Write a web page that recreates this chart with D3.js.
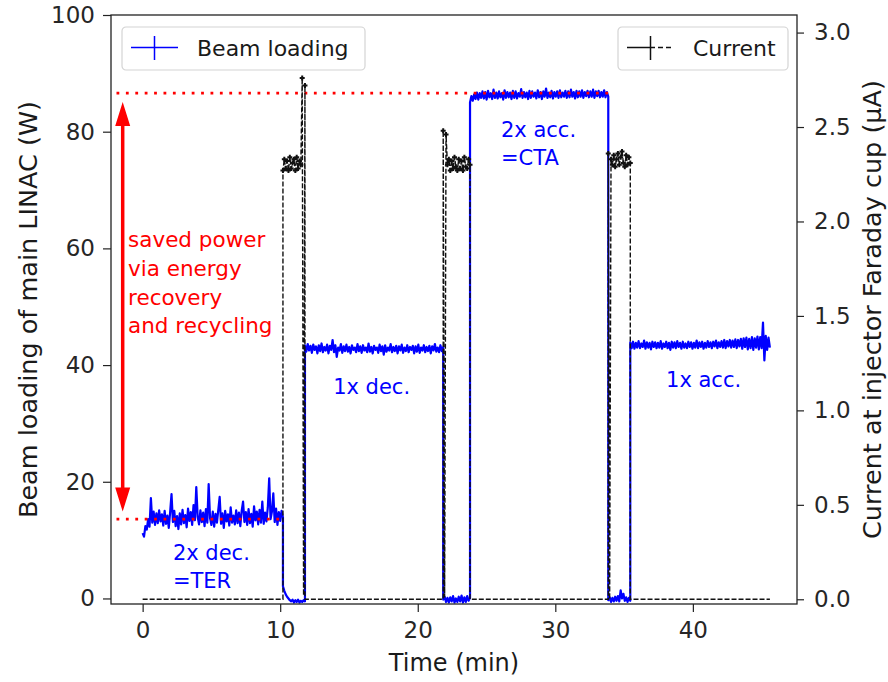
<!DOCTYPE html>
<html>
<head>
<meta charset="utf-8">
<script src="https://cdn.jsdelivr.net/npm/d3@7"></script>
<style>
  body { margin: 0; background: #fff; }
  svg { font-family: "DejaVu Sans", sans-serif; }
</style>
</head>
<body>
<div id="graph"></div>
<script>
// segment boundaries (min): TER, off, 1x dec, off, 2x acc, off, 1x acc
var segStart = [0, 10.2, 11.8, 21.85, 23.8, 33.85, 35.45];
var segEnd = [10.2, 11.8, 21.85, 23.8, 33.85, 35.45, 45.6];

// beam loading of main LINAC (W)
var loadTer = [11.2, 10.6, 12.4, 11.8, 13.6, 12.3, 17.2, 13.0, 14.9, 12.6,
  14.6, 12.9, 15.1, 13.2, 14.4, 12.5, 15.0, 12.8, 14.2, 12.1,
  14.8, 17.9, 13.1, 15.0, 12.4, 14.1, 11.9, 14.6, 12.7, 15.2,
  12.9, 14.3, 12.2, 15.4, 13.3, 14.8, 12.6, 16.0, 13.4, 19.1,
  14.0, 12.7, 15.1, 13.1, 14.7, 12.4, 15.3, 13.0, 19.6, 13.8,
  12.6, 14.9, 12.3, 14.5, 13.0, 15.2, 17.4, 12.8, 14.6, 12.1,
  15.0, 13.2, 14.4, 12.5, 15.6, 13.0, 14.2, 12.7, 15.1, 12.9,
  14.7, 12.4, 15.0, 16.6, 13.1, 14.8, 12.6, 15.3, 12.9, 14.5,
  12.3, 15.8, 13.4, 14.9, 12.7, 15.2, 13.0, 16.6, 12.8, 14.7,
  13.2, 15.6, 20.6, 13.6, 14.9, 18.0, 13.1, 15.4, 12.6, 14.8,
  13.3, 15.0, 13.9];
var loadOff1 = [2.1, 1.3, 0.7, 0.3, 0.0, -0.3, -0.5, -0.2, -0.7, -0.3, -0.6, -0.2, -0.7, -0.4, -0.6, -0.3, -0.5];
var loadDec = [43.4, 42.3, 43.6, 42.5, 43.3, 42.1, 43.5, 42.6, 43.2, 42.0,
  43.4, 42.4, 43.7, 42.2, 43.1, 42.5, 43.5, 42.0, 43.3, 42.6,
  44.3, 42.2, 43.4, 41.4, 43.0, 42.5, 43.6, 42.1, 43.2, 42.4,
  43.5, 42.3, 43.1, 42.0, 43.4, 42.6, 43.0, 42.2, 43.6, 42.4,
  43.2, 42.1, 43.4, 42.5, 43.0, 42.2, 43.7, 42.3, 43.1, 42.0,
  43.3, 42.6, 43.0, 42.1, 43.5, 42.4, 43.2, 41.8, 43.4, 42.3,
  43.0, 42.5, 43.6, 42.2, 43.1, 42.4, 43.3, 42.0, 43.2, 42.5,
  43.5, 42.1, 43.0, 42.4, 43.4, 42.2, 43.1, 42.6, 43.3, 42.0,
  43.2, 42.3, 43.5, 42.1, 43.0, 42.5, 43.4, 42.2, 43.1, 42.4,
  43.3, 42.0, 43.2, 42.5, 43.6, 42.3, 43.0, 42.2, 43.4, 42.4,
  43.1];
var loadOff2 = [-0.2, 0.3, -0.6, 0.1, -0.7, 0.2, -0.5, 0.4, -0.7, 0.0, -0.6, 0.3, -0.5, 0.5, -0.7, 0.2, -0.6, 0.4, -0.4, 0.1];
var loadAcc2 = [85.0, 86.1, 85.3, 86.4, 85.6, 86.7, 85.5, 86.6, 85.8, 86.9,
  85.7, 86.8, 85.5, 87.0, 85.9, 86.6, 85.6, 87.2, 85.8, 86.7,
  85.7, 86.9, 85.9, 86.6, 85.5, 87.1, 85.8, 86.8, 85.9, 86.7,
  85.6, 87.0, 85.8, 86.9, 85.7, 86.6, 86.0, 87.3, 85.8, 86.8,
  85.9, 86.7, 85.6, 87.0, 85.8, 86.9, 86.0, 86.7, 85.7, 87.1,
  85.9, 86.8, 85.6, 86.9, 86.0, 87.4, 85.8, 86.7, 85.9, 87.0,
  85.7, 86.8, 86.0, 86.9, 85.8, 87.1, 85.9, 86.7, 86.0, 87.0,
  85.8, 86.9, 85.9, 87.2, 86.0, 86.8, 85.7, 87.0, 85.9, 86.9,
  86.0, 87.1, 85.8, 86.8, 86.1, 87.0, 85.9, 86.9, 86.0, 87.2,
  85.8, 86.9, 86.1, 87.0, 85.9, 86.8, 86.0, 87.1, 85.9, 86.8,
  86.0];
var loadOff3 = [-0.3, 0.2, -0.6, 0.1, -0.5, 0.3, -0.4, 0.4, -0.5, 1.4, 0.0, 0.8, -0.4, 0.2, -0.6, 0.1, -0.4];
var loadAcc1 = [43.9, 42.9, 44.0, 42.8, 43.8, 43.0, 44.1, 42.9, 43.7, 43.1,
  44.2, 42.8, 43.9, 43.0, 43.8, 42.7, 44.0, 43.1, 43.9, 42.9,
  43.8, 43.0, 44.1, 42.8, 43.7, 43.1, 44.0, 42.9, 43.8, 42.6,
  44.0, 43.0, 43.9, 42.9, 44.1, 43.1, 43.8, 42.8, 44.0, 43.0,
  43.7, 42.9, 44.0, 43.1, 43.9, 42.8, 43.8, 43.0, 44.2, 42.9,
  43.9, 43.1, 44.0, 42.8, 43.8, 43.0, 44.1, 43.1, 43.9, 42.9,
  44.0, 43.2, 44.2, 42.9, 43.9, 43.1, 44.1, 43.0, 44.3, 42.9,
  44.1, 43.2, 44.3, 43.0, 44.2, 43.1, 44.4, 42.9, 44.3, 43.2,
  44.5, 42.8, 44.6, 43.1, 44.7, 42.7, 44.5, 42.9, 44.8, 42.6,
  44.6, 43.0, 44.9, 42.7, 44.8, 42.9, 47.3, 40.8, 45.0, 42.6,
  44.7, 43.0];

// current at injector Faraday cup (uA)
var curOff0 = [0, 0];
var curOn1 = [2.27, 2.33, 2.28, 2.32, 2.27, 2.34, 2.28, 2.31, 2.33, 2.27, 2.34, 2.28, 2.32, 2.30, 2.76, 0.02, 2.72];
var curOff1 = [0, 0];
var curOn2 = [2.48, 0.01, 2.46, 2.30, 2.33, 2.27, 2.32, 2.28, 2.34, 2.29, 2.27, 2.33, 2.28, 2.32, 2.27, 2.34, 2.29, 2.28, 2.33, 2.30];
var curOff2 = [0, 0];
var curOn3 = [2.36, 0.0, 2.33, 2.30, 2.35, 2.29, 2.33, 2.36, 2.30, 2.34, 2.37, 2.31, 2.29, 2.35, 2.30, 2.34, 2.31];
var curOff3 = [0, 0];

var timeTicks = [0, 10, 20, 30, 40];
var loadTicks = [0, 20, 40, 60, 80, 100];
var currentTicks = [0, 0.5, 1.0, 1.5, 2.0, 2.5, 3.0];

// saved power band (W)
var savedLevels = [86.6, 13.6];
var savedText = ["saved power", "via energy", "recovery", "and recycling"];

var plot = {left: 111, right: 797, top: 15, bottom: 604};

var x = d3.scaleLinear().domain([-2.3, 47.57]).range([plot.left, plot.right]);
var yLoad = d3.scaleLinear().domain([-0.95, 100]).range([plot.bottom, plot.top]);
var yCur = d3.scaleLinear().domain([-0.025, 3.093]).range([plot.bottom, plot.top]);

var toPoints = function (segments) {
  var pts = [];
  segments.forEach(function (vals, i) {
    var t0 = segStart[i], t1 = segEnd[i];
    vals.forEach(function (v, j) {
      pts.push({t: t0 + (t1 - t0) * j / (vals.length - 1), v: v});
    });
  });
  return pts;
};

// '+' markers along a trace
var plusPath = function (data, y, s) {
  return data.map(function (d) {
    var px = x(d.t), py = y(d.v);
    return 'M' + (px - s) + ',' + py + 'h' + 2 * s + 'M' + px + ',' + (py - s) + 'v' + 2 * s;
  }).join('');
};

var beamData = toPoints([loadTer, loadOff1, loadDec, loadOff2, loadAcc2, loadOff3, loadAcc1]);
var currentData = toPoints([curOff0, curOn1, curOff1, curOn2, curOff2, curOn3, curOff3]);

var svg = d3.select('#graph').append('svg')
  .attr('width', 888)
  .attr('height', 682);

svg.append('defs').append('clipPath').attr('id', 'clip')
  .append('rect')
  .attr('x', plot.left).attr('y', plot.top)
  .attr('width', plot.right - plot.left).attr('height', plot.bottom - plot.top);

var styleAxis = function (g) {
  g.attr('font-family', '"DejaVu Sans", sans-serif').attr('font-size', 23);
  g.select('.domain').remove();
  g.selectAll('.tick line').attr('stroke', '#222').attr('stroke-width', 1.2);
  g.selectAll('.tick text').attr('fill', '#262626');
};

// Add the axes
svg.append('g')
  .attr('transform', 'translate(0,' + plot.bottom + ')')
  .call(d3.axisBottom(x).tickValues(timeTicks).tickFormat(d3.format('d')).tickSize(8).tickPadding(10))
  .call(styleAxis);
svg.append('g')
  .attr('transform', 'translate(' + plot.left + ',0)')
  .call(d3.axisLeft(yLoad).tickValues(loadTicks).tickFormat(d3.format('d')).tickSize(8).tickPadding(8))
  .call(styleAxis);
svg.append('g')
  .attr('transform', 'translate(' + plot.right + ',0)')
  .call(d3.axisRight(yCur).tickValues(currentTicks).tickFormat(d3.format('.1f')).tickSize(7).tickPadding(10))
  .call(styleAxis);

// axis labels
svg.append('text')
  .attr('transform', 'translate(37,' + (plot.top + plot.bottom) / 2 + ') rotate(-90)')
  .attr('text-anchor', 'middle').attr('font-size', 25.5).attr('fill', '#1a1a1a')
  .text('Beam loading of main LINAC (W)');
svg.append('text')
  .attr('transform', 'translate(881,' + (plot.top + plot.bottom) / 2 + ') rotate(-90)')
  .attr('text-anchor', 'middle').attr('font-size', 25.5).attr('fill', '#1a1a1a')
  .text('Current at injector Faraday cup (\u00b5A)');
svg.append('text')
  .attr('x', (plot.left + plot.right) / 2).attr('y', 671)
  .attr('text-anchor', 'middle').attr('font-size', 24).attr('fill', '#1a1a1a')
  .text('Time (min)');

var area = svg.append('g').attr('clip-path', 'url(#clip)');

// Draw the beam loading trace
var beamLine = d3.line()
  .x(function (d) { return x(d.t); })
  .y(function (d) { return yLoad(d.v); });
area.append('path')
  .datum(beamData)
  .attr('fill', 'none')
  .attr('stroke', 'blue')
  .attr('stroke-width', 2.2)
  .attr('stroke-linejoin', 'round')
  .attr('d', beamLine);

// saved power markers
area.append('line')
  .attr('x1', x(-1.9)).attr('x2', x(segEnd[4]))
  .attr('y1', yLoad(savedLevels[0])).attr('y2', yLoad(savedLevels[0]))
  .attr('stroke', 'red').attr('stroke-width', 2.8).attr('stroke-dasharray', '2.8,6.6');
area.append('line')
  .attr('x1', x(-1.9)).attr('x2', x(segEnd[0]))
  .attr('y1', yLoad(savedLevels[1])).attr('y2', yLoad(savedLevels[1]))
  .attr('stroke', 'red').attr('stroke-width', 2.8).attr('stroke-dasharray', '2.8,6.6');

var ax = x(-1.45), aTop = yLoad(85.1), aBot = yLoad(14.9), head = 24, hw = 7.5;
area.append('line')
  .attr('x1', ax).attr('x2', ax)
  .attr('y1', aTop + head - 2).attr('y2', aBot - head + 2)
  .attr('stroke', 'red').attr('stroke-width', 3.5);
area.append('path')
  .attr('d', 'M' + ax + ',' + aTop + 'L' + (ax - hw) + ',' + (aTop + head) + 'L' + (ax + hw) + ',' + (aTop + head) + 'Z' +
    'M' + ax + ',' + aBot + 'L' + (ax - hw) + ',' + (aBot - head) + 'L' + (ax + hw) + ',' + (aBot - head) + 'Z')
  .attr('fill', 'red');

// Draw the current trace
var currentLine = d3.line()
  .x(function (d) { return x(d.t); })
  .y(function (d) { return yCur(d.v); });
area.append('path')
  .datum(currentData)
  .attr('fill', 'none')
  .attr('stroke', '#111')
  .attr('stroke-width', 1.4)
  .attr('stroke-dasharray', '5,2')
  .attr('d', currentLine);
area.append('path')
  .attr('fill', 'none')
  .attr('stroke', '#111')
  .attr('stroke-width', 2)
  .attr('d', plusPath(currentData.filter(function (d) { return d.v > 0.5; }), yCur, 2.5));

// annotations
var saved = svg.append('text')
  .attr('font-size', 21.5).attr('fill', 'red');
savedText.forEach(function (s, i) {
  saved.append('tspan').attr('x', x(-1.06)).attr('y', yLoad(60.2) + i * 28.7).text(s);
});

var modeNotes = [
  {lines: ['2x dec.', '=TER'], t: 2.2, w: 6.6},
  {lines: ['1x dec.'], t: 13.85, w: 35.0},
  {lines: ['2x acc.', '=CTA'], t: 26.05, w: 79.1},
  {lines: ['1x acc.'], t: 38.05, w: 36.2}
];
modeNotes.forEach(function (n) {
  var txt = svg.append('text').attr('font-size', 21).attr('fill', 'blue');
  n.lines.forEach(function (s, i) {
    txt.append('tspan').attr('x', x(n.t)).attr('y', yLoad(n.w) + i * 28.5).text(s);
  });
});

// frame
svg.append('rect')
  .attr('x', plot.left).attr('y', plot.top)
  .attr('width', plot.right - plot.left).attr('height', plot.bottom - plot.top)
  .attr('fill', 'none').attr('stroke', '#222').attr('stroke-width', 1.3);

// legends
var legendLabels = ['Beam loading', 'Current'];
var legendBoxes = [{x: 122, w: 243, color: 'blue', dash: null}, {x: 618, w: 170, color: '#111', dash: '28,3,5,3,5,3'}];
legendBoxes.forEach(function (b, i) {
  var g = svg.append('g').attr('transform', 'translate(' + b.x + ',27)');
  g.append('rect')
    .attr('width', b.w).attr('height', 43).attr('rx', 4)
    .attr('fill', 'white').attr('fill-opacity', 0.85)
    .attr('stroke', '#d4d4d4').attr('stroke-width', 1.2);
  g.append('line')
    .attr('x1', 9).attr('x2', 56).attr('y1', 20.5).attr('y2', 20.5)
    .attr('stroke', b.color).attr('stroke-width', 1.5)
    .attr('stroke-dasharray', b.dash);
  g.append('line')
    .attr('x1', 32.5).attr('x2', 32.5).attr('y1', 9).attr('y2', 33)
    .attr('stroke', b.color).attr('stroke-width', 1.5);
  g.append('text')
    .attr('x', 75).attr('y', 29)
    .attr('font-size', 22).attr('fill', '#1a1a1a')
    .text(legendLabels[i]);
});
</script>
</body>
</html>
